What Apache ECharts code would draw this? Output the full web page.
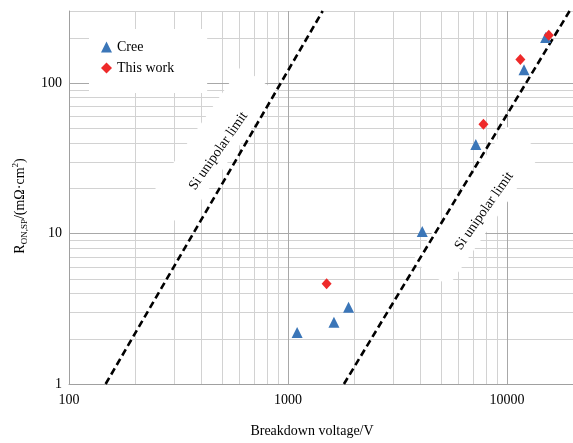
<!DOCTYPE html>
<html><head><meta charset="utf-8">
<script src="https://cdn.jsdelivr.net/npm/echarts@6/dist/echarts.min.js"></script>
<style>html,body{margin:0;padding:0;background:#fff}#c{width:573px;height:443px}</style>
</head><body><div id="c"></div>
<script>
// ---- data ----
const xMin = 100, xMax = 20000, yMin = 1, yMax = 300;
const xGridMajor = [100, 1000, 10000];
const xGridMinor = [200,300,400,500,600,700,800,900,2000,3000,4000,5000,6000,7000,8000,9000,20000];
const yGridMajor = [1, 10, 100];
const yGridMinor = [2,3,4,5,6,7,8,9,20,30,40,50,60,70,80,90,200,300];
const creeData = [[1100,2.2],[1620,2.57],[1890,3.23],[4100,10.3],[7200,39],[11950,122],[15000,200]];
const thisWorkData = [[1500,4.64],[7800,53],[11500,143],[15500,207]];
const siLimit1 = [[147,1],[1440,300]];
const siLimit2 = [[1800,1],[19300,300]];
const limitLabel = 'Si unipolar limit';
const labelAnchors = [[481,35.3],[7850,14.1]];
const xName = 'Breakdown voltage/V';

const FONT = '"Liberation Serif", "Times New Roman", serif';
const chart = echarts.init(document.getElementById('c'), null, {renderer:'canvas'});

function vLine(color){
  return function(params, api){
    const x = api.value(0);
    const p1 = api.coord([x, yMin]), p2 = api.coord([x, yMax]);
    const xx = Math.round(p1[0]) + 0.5;
    return {type:'line', shape:{x1:xx, y1:p1[1], x2:xx, y2:p2[1]}, style:{stroke:color, lineWidth:1}};
  };
}
function hLine(color){
  return function(params, api){
    const y = api.value(1);
    const p1 = api.coord([xMin, y]), p2 = api.coord([xMax, y]);
    const yy = Math.round(p1[1]) + 0.5;
    return {type:'line', shape:{x1:p1[0], y1:yy, x2:p2[0], y2:yy}, style:{stroke:color, lineWidth:1}};
  };
}
const MINOR = '#d2d2d2', MAJOR = '#a8a8a8';
const plainNum = v => String(Math.round(v));

const option = {
  animation: false,
  backgroundColor: '#fff',
  grid: {left: 69, top: 11, width: 506, height: 374, containLabel: false},
  legend: {
    orient: 'vertical', left: 89, top: 29, padding: [11, 33, 18, 12],
    itemGap: 7, itemWidth: 11, itemHeight: 11, backgroundColor: '#fff',
    textStyle: {fontFamily: FONT, fontSize: 14, color: '#000'},
    data: [{name: 'Cree', icon: 'triangle'}, {name: 'This work', icon: 'diamond'}]
  },
  xAxis: {
    type: 'log', logBase: 10, min: xMin, max: xMax,
    axisLine: {show: true, lineStyle: {color: '#a0a0a0', width: 1}},
    axisTick: {show: false}, splitLine: {show: false},
    axisLabel: {fontFamily: FONT, fontSize: 14, color: '#000', margin: 9, showMaxLabel: false, formatter: plainNum},
    name: xName, nameLocation: 'middle', nameGap: 40,
    nameTextStyle: {fontFamily: FONT, fontSize: 14, color: '#000', padding: [0, 18, 0, 0]}
  },
  yAxis: {
    type: 'log', logBase: 10, min: yMin, max: yMax,
    axisLine: {show: true, lineStyle: {color: '#a0a0a0', width: 1}},
    axisTick: {show: false}, splitLine: {show: false},
    axisLabel: {fontFamily: FONT, fontSize: 14, color: '#000', margin: 7, showMaxLabel: false, formatter: plainNum}
  },
  series: [
    {type: 'custom', z: 0, silent: true, renderItem: vLine(MINOR), data: xGridMinor.map(v => [v, yMin])},
    {type: 'custom', z: 0, silent: true, renderItem: hLine(MINOR), data: yGridMinor.map(v => [xMin, v])},
    {type: 'custom', z: 0, silent: true, renderItem: vLine(MAJOR), data: xGridMajor.map(v => [v, yMin])},
    {type: 'custom', z: 0, silent: true, renderItem: hLine(MAJOR), data: yGridMajor.map(v => [xMin, v])},
    {type: 'line', name: 'limit1', z: 3, data: siLimit1, showSymbol: false, symbol: 'none', silent: true,
     lineStyle: {color: '#000', width: 2.6, type: [7, 4]}},
    {type: 'line', name: 'limit2', z: 3, data: siLimit2, showSymbol: false, symbol: 'none', silent: true,
     lineStyle: {color: '#000', width: 2.6, type: [7, 4]}},
    {type: 'scatter', name: 'Cree', z: 4, data: creeData, symbol: 'triangle', symbolSize: 11,
     itemStyle: {color: '#3b76b8', opacity: 1}},
    {type: 'scatter', name: 'This work', z: 5, data: thisWorkData, symbol: 'diamond', symbolSize: [10, 11],
     itemStyle: {color: '#ee2a2a', opacity: 1}}
  ]
};
chart.setOption(option);

const ang = 55 * Math.PI / 180;
const graphics = labelAnchors.map(function(a, i){
  const p = chart.convertToPixel({gridIndex: 0}, a);
  return {type: 'group', id: 'lab' + i, x: p[0], y: p[1], rotation: ang, z: 1, children: [
    {type: 'rect', z: 1, shape: {x: -82, y: -30, width: 164, height: 44}, style: {fill: '#fff'}},
    {type: 'text', z: 1, style: {text: limitLabel, x: 0, y: 0, align: 'center', verticalAlign: 'middle',
      fontFamily: FONT, fontSize: 14, fill: '#000'}}
  ]};
});
graphics.push({
  type: 'text', id: 'yname', z: 6, x: 20, y: 206, rotation: Math.PI / 2,
  style: {
    text: '{m|R}{s|ON,SP}{m|/(mΩ·cm}{p|2}{m|)}',
    align: 'center', verticalAlign: 'middle',
    rich: {
      m: {fontFamily: FONT, fontSize: 14, fill: '#000', lineHeight: 18, verticalAlign: 'middle'},
      s: {fontFamily: FONT, fontSize: 9, fill: '#000', lineHeight: 9, verticalAlign: 'bottom'},
      p: {fontFamily: FONT, fontSize: 9, fill: '#000', lineHeight: 9, verticalAlign: 'top'}
    }
  }
});
chart.setOption({graphic: graphics});
</script>
</body></html>
